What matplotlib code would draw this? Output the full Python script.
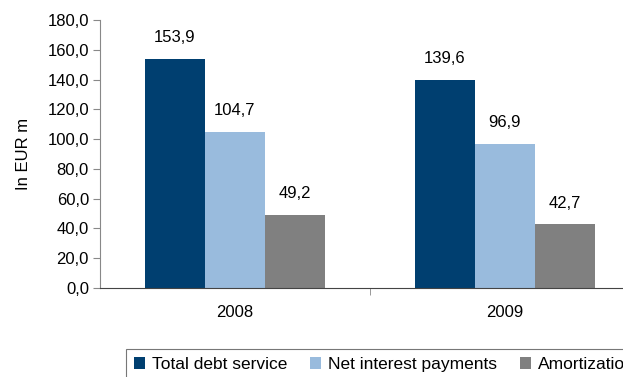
import numpy as np
import matplotlib.pyplot as plt
from matplotlib.ticker import FuncFormatter, FixedLocator

plt.rcParams['font.family'] = ['Liberation Sans', 'DejaVu Sans']

years = ['2008', '2009']
series = ['Total debt service', 'Net interest payments', 'Amortization']
total_debt = [153.9, 139.6]
net_interest = [104.7, 96.9]
amortization = [49.2, 42.7]
colors = ['#003f70', '#99bbdd', '#808080']

fig = plt.figure(figsize=(6.23, 3.77), dpi=100)
W, H = 623, 377
ax = fig.add_axes([100 / W, 89 / H, 540 / W, 268 / H])

x = np.arange(len(years))
w = 0.222
for i, (vals, name, c) in enumerate(zip([total_debt, net_interest, amortization], series, colors)):
    pos = x + (i - 1) * w
    bars = ax.bar(pos, vals, w, color=c, label=name)
    for b, v in zip(bars, vals):
        ax.annotate(f'{v:.1f}'.replace('.', ','), (b.get_x() + b.get_width() / 2, v),
                    xytext=(0, 10), textcoords='offset points', ha='center', va='bottom',
                    fontsize=12)

ax.set_xlim(-0.5, 1.5)
ax.set_ylim(0, 180)
ax.set_yticks(np.arange(0, 181, 20))
ax.yaxis.set_major_formatter(FuncFormatter(lambda v, p: f'{v:.1f}'.replace('.', ',')))
ax.set_xticks(x)
ax.set_xticklabels(years)
ax.xaxis.set_minor_locator(FixedLocator([0.5]))
ax.tick_params(axis='x', which='major', length=0, pad=12, labelsize=12)
ax.tick_params(axis='x', which='minor', length=5, color='#888888')
ax.tick_params(axis='y', length=5, labelsize=12, color='#888888', pad=3)
ax.set_ylabel('In EUR m', fontsize=12, labelpad=12)
for s in ['top', 'right']:
    ax.spines[s].set_visible(False)
ax.spines['left'].set_color('#888888')
ax.spines['bottom'].set_color('#444444')

leg = fig.legend(loc='upper left', bbox_to_anchor=(126 / W, 1 - 349 / H), ncol=3,
                 fontsize=12.5, frameon=True, fancybox=False, edgecolor='#555555',
                 handlelength=0.65, handleheight=0.65, handletextpad=0.4,
                 columnspacing=1.3, borderpad=0.45, borderaxespad=0)
leg.get_frame().set_linewidth(0.8)

fig.savefig('out.png', dpi=100)
